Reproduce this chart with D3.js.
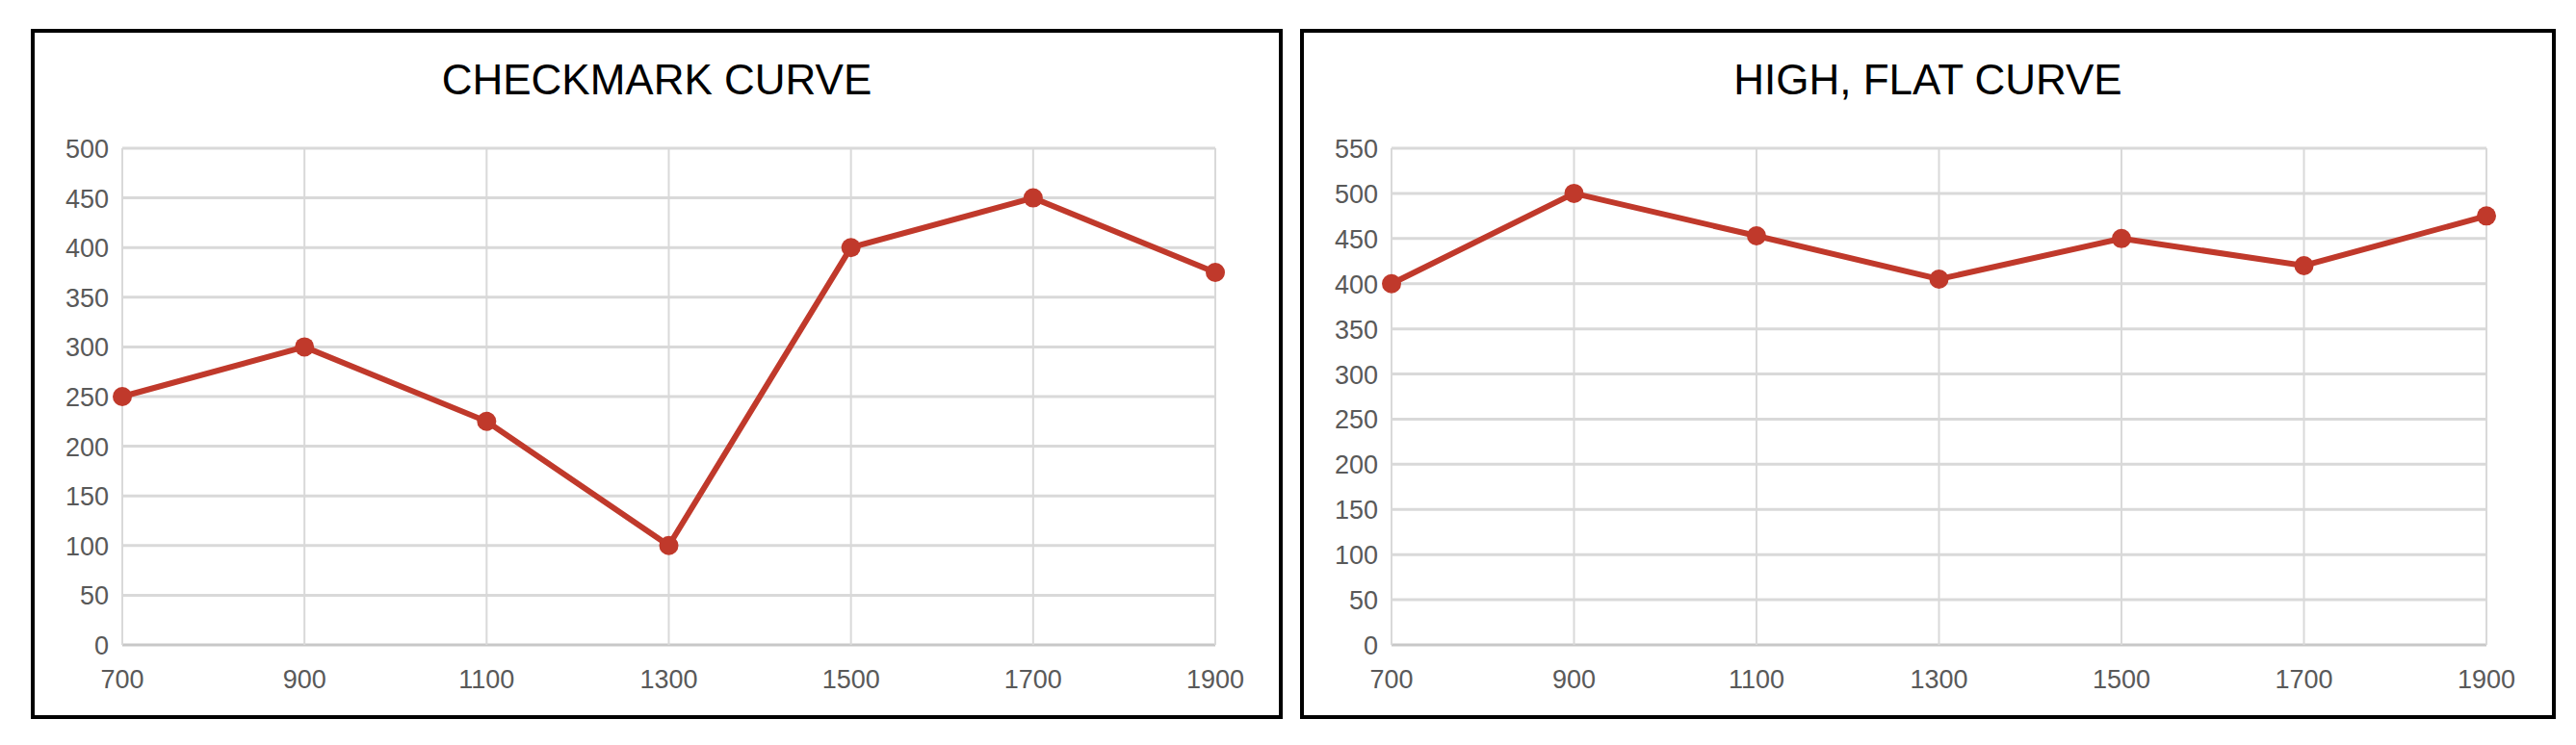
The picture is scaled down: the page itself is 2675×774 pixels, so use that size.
<html>
<head>
<script src="https://cdn.jsdelivr.net/npm/d3@7"></script>
<style>
  body { margin: 0; background: #fff; }
</style>
</head>
<body>
<div id="chart"></div>
<script>
  var years = [700, 900, 1100, 1300, 1500, 1700, 1900];
  var checkmarkValues = [250, 300, 225, 100, 400, 450, 375];
  var highFlatValues = [400, 500, 453, 405, 450, 420, 475];
  var checkmarkTicks = [0, 50, 100, 150, 200, 250, 300, 350, 400, 450, 500];
  var highFlatTicks = [0, 50, 100, 150, 200, 250, 300, 350, 400, 450, 500, 550];

  var svg = d3.select("#chart").append("svg")
    .attr("width", 2675).attr("height", 774)
    .attr("font-family", "'Liberation Sans', Arial, sans-serif");

  function panel(box, plot, title, values, ticks) {
    var g = svg.append("g");
    g.append("rect")
      .attr("x", box.x).attr("y", 32)
      .attr("width", box.w).attr("height", 713)
      .attr("fill", "#fff").attr("stroke", "#000").attr("stroke-width", 4);

    g.append("text")
      .attr("x", box.x + box.w / 2).attr("y", 98)
      .attr("text-anchor", "middle")
      .attr("font-size", 44)
      .text(title);

    var x = d3.scaleLinear().domain([700, 1900]).range([plot.x0, plot.x1]);
    var y = d3.scaleLinear().domain([0, d3.max(ticks)]).range([670, 154]);

    g.selectAll(".hg").data(ticks).enter().append("line")
      .attr("x1", plot.x0).attr("x2", plot.x1)
      .attr("y1", d => y(d)).attr("y2", d => y(d))
      .attr("stroke", d => d === 0 ? "#c8c8c8" : "#d9d9d9").attr("stroke-width", 3);
    g.selectAll(".vg").data(years).enter().append("line")
      .attr("x1", d => x(d)).attr("x2", d => x(d))
      .attr("y1", y(d3.max(ticks))).attr("y2", y(0))
      .attr("stroke", "#d9d9d9").attr("stroke-width", 2);

    g.selectAll(".yl").data(ticks).enter().append("text")
      .attr("x", plot.x0 - 14).attr("y", d => y(d) + 10)
      .attr("text-anchor", "end").attr("font-size", 27).attr("fill", "#595959")
      .text(d => d);
    g.selectAll(".xl").data(years).enter().append("text")
      .attr("x", d => x(d)).attr("y", 715)
      .attr("text-anchor", "middle").attr("font-size", 27).attr("fill", "#595959")
      .text(d => d);

    var line = d3.line().x((d, i) => x(years[i])).y(d => y(d));
    g.append("path").datum(values)
      .attr("d", line).attr("fill", "none")
      .attr("stroke", "#c0392b").attr("stroke-width", 6);
    g.selectAll(".pt").data(values).enter().append("circle")
      .attr("cx", (d, i) => x(years[i])).attr("cy", d => y(d))
      .attr("r", 10).attr("fill", "#c0392b");
  }

  panel({ x: 34, w: 1296 }, { x0: 127, x1: 1262 }, "CHECKMARK CURVE", checkmarkValues, checkmarkTicks);
  panel({ x: 1352, w: 1300 }, { x0: 1445, x1: 2582 }, "HIGH, FLAT CURVE", highFlatValues, highFlatTicks);
</script>
</body>
</html>
